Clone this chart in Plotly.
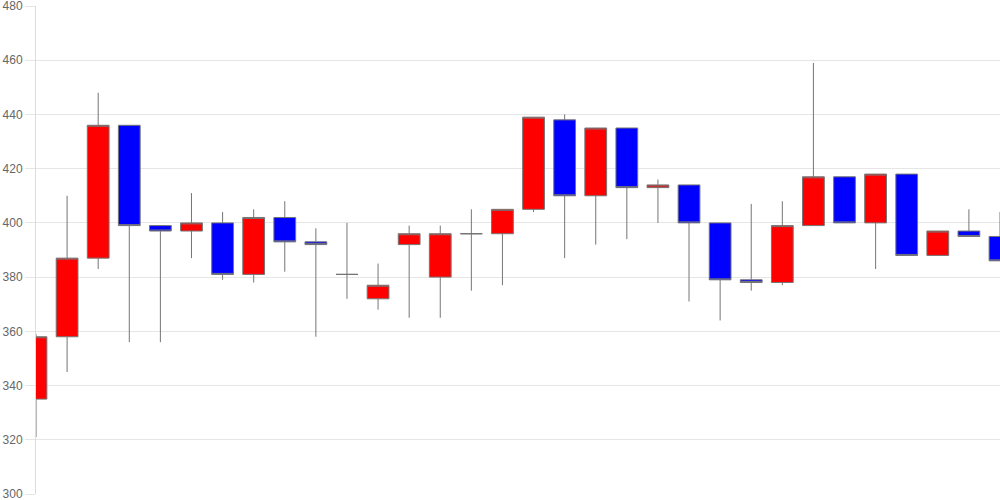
import plotly.graph_objects as go

x_idx = list(range(32))
opens = [335, 358, 387, 436, 399, 397, 400, 381, 402, 393, 381, 372, 392, 380, 396, 396,
         405, 438, 410, 435, 413, 414, 400, 379, 378, 399, 417, 400, 418, 388, 397, 395]
highs = [359, 410, 448, 436, 399, 411, 404, 405, 408, 398, 400, 385, 399, 399, 405, 405,
         439, 440, 435, 435, 416, 414, 400, 407, 408, 459, 417, 418, 418, 397, 405, 404]
lows = [321, 345, 383, 356, 356, 387, 379, 378, 382, 358, 372, 368, 365, 365, 375, 377,
        404, 387, 392, 394, 400, 371, 364, 375, 377, 399, 400, 383, 388, 388, 395, 386]
closes = [358, 387, 436, 399, 397, 400, 381, 402, 393, 392, 381, 377, 396, 396, 396, 405,
          439, 410, 435, 413, 414, 400, 379, 378, 399, 417, 400, 418, 388, 397, 395, 386]
y_ticks = [300, 320, 340, 360, 380, 400, 420, 440, 460, 480]

fig = go.Figure(go.Candlestick(
    x=x_idx, open=opens, high=highs, low=lows, close=closes,
    increasing=dict(fillcolor="#ff0000", line=dict(color="#757575", width=1)),
    decreasing=dict(fillcolor="#0000ff", line=dict(color="#757575", width=1)),
    whiskerwidth=0, showlegend=False, hoverinfo="skip",
))

fig.update_layout(
    width=1000, height=500,
    margin=dict(l=36, r=0, t=6, b=6, autoexpand=False),
    paper_bgcolor="white", plot_bgcolor="white",
    xaxis=dict(range=[0, 31], showgrid=False, zeroline=False, showticklabels=False,
               rangeslider=dict(visible=False), showline=False, ticks=""),
    yaxis=dict(range=[300, 480], tickvals=y_ticks, showgrid=True, gridcolor="#e6e6e6",
               gridwidth=1, zeroline=False, showline=True, linecolor="#dcdcdc", linewidth=1,
               ticks="outside", ticklen=10, tickcolor="#e6e6e6", ticklabeloverflow="allow",
               tickfont=dict(family="Liberation Sans, Arial, sans-serif", size=12, color="#666666")),
    boxgap=0.3, boxgroupgap=0,
)

fig.write_html("out.html", config={"displayModeBar": False},
               post_script="document.body.style.margin='0';document.body.style.overflow='hidden';")
